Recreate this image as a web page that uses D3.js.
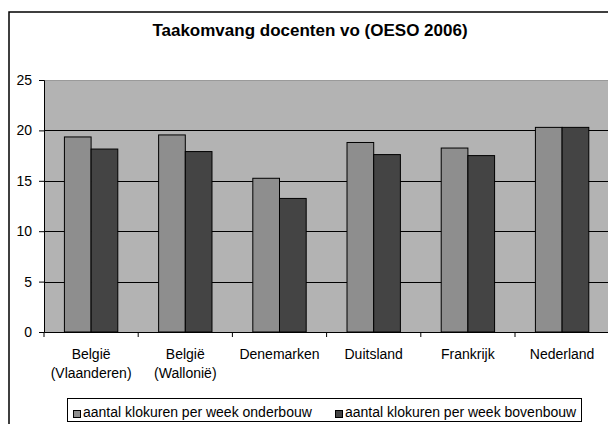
<!DOCTYPE html>
<html>
<head>
<meta charset="utf-8">
<script src="https://cdn.jsdelivr.net/npm/d3@7"></script>
<style>
  body { margin: 0; background: #fff; }
  text { font-family: "Liberation Sans", Arial, sans-serif; fill: #000; }
</style>
</head>
<body>
<script>
const categories = ["België (Vlaanderen)", "België (Wallonië)", "Denemarken", "Duitsland", "Frankrijk", "Nederland"];
const categoryLines = [["België", "(Vlaanderen)"], ["België", "(Wallonië)"], ["Denemarken"], ["Duitsland"], ["Frankrijk"], ["Nederland"]];
const series = ["aantal klokuren per week onderbouw", "aantal klokuren per week bovenbouw"];
const onderbouw = [19.35, 19.55, 15.25, 18.8, 18.25, 20.3];
const bovenbouw = [18.15, 17.9, 13.25, 17.6, 17.5, 20.3];
const yTicks = [0, 5, 10, 15, 20, 25];
const colors = ["#8e8e8e", "#444444"];

const width = 608, height = 424;
const svg = d3.select("body").append("svg")
  .attr("width", width)
  .attr("height", height);

// kader om de hele grafiek (rechts en onder buiten beeld)
svg.append("rect")
  .attr("x", 9).attr("y", 12)
  .attr("width", 640).attr("height", 440)
  .attr("fill", "#fff")
  .attr("stroke", "#000")
  .attr("stroke-width", 1.5);

svg.append("text")
  .attr("x", 310).attr("y", 36)
  .attr("text-anchor", "middle")
  .style("font-size", "17px")
  .style("font-weight", "bold")
  .text("Taakomvang docenten vo (OESO 2006)");

const plot = { left: 44, right: 609.2, top: 80, bottom: 332 };

const x = d3.scaleBand()
  .domain(categories)
  .range([plot.left, plot.right]);

const xs = d3.scaleBand()
  .domain(series)
  .range([0, x.bandwidth()])
  .paddingOuter(0.765);

const y = d3.scaleLinear()
  .domain([0, 25])
  .range([plot.bottom, plot.top]);

// plotgebied
svg.append("rect")
  .attr("x", plot.left).attr("y", plot.top)
  .attr("width", plot.right - plot.left)
  .attr("height", plot.bottom - plot.top)
  .attr("fill", "#b3b3b3");

svg.append("line")
  .attr("x1", plot.left).attr("x2", plot.right)
  .attr("y1", y(25) + 0.5).attr("y2", y(25) + 0.5)
  .attr("stroke", "#9a9a9a");

// rasterlijnen
svg.selectAll("line.grid")
  .data(yTicks.filter(d => d > 0 && d < 25))
  .enter()
  .append("line")
  .attr("class", "grid")
  .attr("x1", plot.left).attr("x2", plot.right)
  .attr("y1", d => Math.round(y(d)) + 0.5)
  .attr("y2", d => Math.round(y(d)) + 0.5)
  .attr("stroke", "#000");

// staven
const rows = categories.map((c, i) => ({ cat: c, values: [onderbouw[i], bovenbouw[i]] }));

const groups = svg.selectAll("g.cat")
  .data(rows)
  .enter()
  .append("g")
  .attr("class", "cat")
  .attr("transform", d => `translate(${x(d.cat)},0)`);

groups.selectAll("rect")
  .data(d => d.values.map((v, j) => ({ s: series[j], v: v, j: j })))
  .enter()
  .append("rect")
  .attr("x", d => xs(d.s))
  .attr("y", d => y(d.v))
  .attr("width", xs.bandwidth())
  .attr("height", d => y(0) - y(d.v))
  .attr("fill", d => colors[d.j])
  .attr("stroke", "#000")
  .attr("stroke-width", 1);

// y-as
const yAxis = svg.append("g")
  .attr("transform", `translate(${plot.left},0)`)
  .call(d3.axisLeft(y).tickValues(yTicks).tickSize(5).tickPadding(7));
yAxis.selectAll("text").style("font-size", "14px").attr("fill", "#000");
yAxis.selectAll("line, path").attr("stroke", "#000");

// x-as
const xAxis = svg.append("g")
  .attr("transform", `translate(0,${plot.bottom})`)
  .call(d3.axisBottom(x).tickValues([]).tickSizeOuter(0));
xAxis.select("path").attr("stroke", "#000");

svg.selectAll("line.xtick")
  .data(categories)
  .enter()
  .append("line")
  .attr("class", "xtick")
  .attr("x1", d => x(d)).attr("x2", d => x(d))
  .attr("y1", plot.bottom).attr("y2", plot.bottom + 5)
  .attr("stroke", "#000");

svg.selectAll("text.xlab")
  .data(categories)
  .enter()
  .append("text")
  .attr("class", "xlab")
  .attr("x", d => x(d) + x.bandwidth() / 2)
  .attr("y", 359)
  .attr("text-anchor", "middle")
  .style("font-size", "14px")
  .each(function (d, i) {
    d3.select(this).selectAll("tspan")
      .data(categoryLines[i])
      .enter()
      .append("tspan")
      .attr("x", x(d) + x.bandwidth() / 2)
      .attr("dy", (t, k) => k === 0 ? 0 : 19)
      .text(t => t);
  });

// legenda
svg.append("rect")
  .attr("x", 67.5).attr("y", 398.5)
  .attr("width", 514).attr("height", 23)
  .attr("fill", "#fff")
  .attr("stroke", "#000");

const legendX = [73, 335];
const legend = svg.selectAll("g.legend")
  .data(series)
  .enter()
  .append("g")
  .attr("class", "legend")
  .attr("transform", (d, i) => `translate(${legendX[i]},410)`);

legend.append("rect")
  .attr("x", 0.5).attr("y", 0.5)
  .attr("width", 7).attr("height", 7)
  .attr("fill", (d, i) => colors[i])
  .attr("stroke", "#000");

legend.append("text")
  .attr("x", 10).attr("y", 6.5)
  .style("font-size", "14px")
  .text(d => d);
</script>
</body>
</html>
